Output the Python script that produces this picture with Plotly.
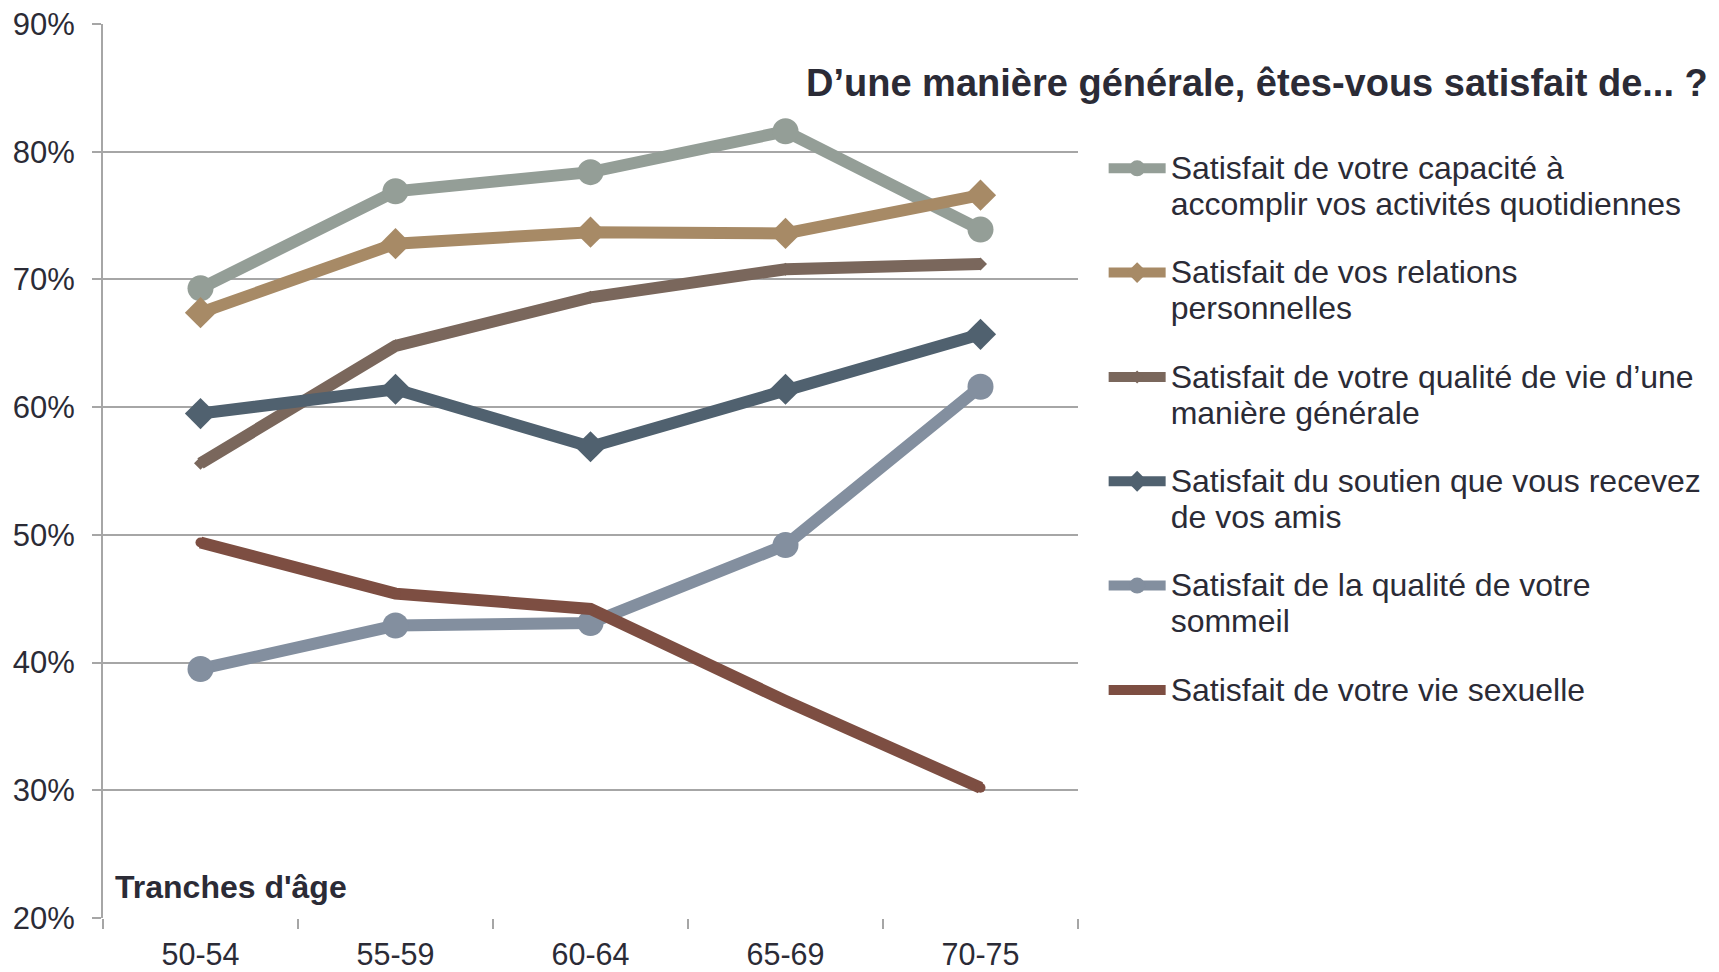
import plotly.graph_objects as go

categories = ["50-54", "55-59", "60-64", "65-69", "70-75"]

s_capacite = [69.3, 76.9, 78.4, 81.6, 73.9]
s_relations = [67.4, 72.8, 73.7, 73.6, 76.6]
s_qualite_vie = [55.6, 64.8, 68.6, 70.8, 71.2]
s_soutien = [59.5, 61.4, 56.9, 61.4, 65.7]
s_sommeil = [39.5, 42.9, 43.1, 49.2, 61.6]
s_sexuelle = [49.4, 45.4, 44.2, 37.0, 30.2]

series_names = [
    "Satisfait de votre capacité à<br>accomplir vos activités quotidiennes",
    "Satisfait de vos relations<br>personnelles",
    "Satisfait de votre qualité de vie d’une<br>manière générale",
    "Satisfait du soutien que vous recevez<br>de vos amis",
    "Satisfait de la qualité de votre<br>sommeil",
    "Satisfait de votre vie sexuelle",
]
series_values = [s_capacite, s_relations, s_qualite_vie, s_soutien, s_sommeil, s_sexuelle]
series_colors = ["#949e97", "#a78a66", "#7a675c", "#50616f", "#838f9f", "#7d4e42"]
series_symbols = ["circle", "diamond", "diamond", "diamond", "circle", "circle"]
series_msizes = [26, 24, 10, 24, 26, 10]

text_color = "#2b2b36"
font_family = "Liberation Sans, Arial, sans-serif"
legend_text_px = 32

fig = go.Figure()
for i, (name, vals, col, sym, ms) in enumerate(
    zip(series_names, series_values, series_colors, series_symbols, series_msizes)
):
    fig.add_trace(
        go.Scatter(
            x=categories,
            y=vals,
            name=f'<span style="font-size:{legend_text_px}px">{name}</span>'.replace(
                "<br>", f'</span><br><span style="font-size:{legend_text_px}px">'
            ),
            mode="lines+markers",
            line=dict(color=col, width=12),
            marker=dict(color=col, symbol=sym, size=ms, line=dict(width=0)),
            legendgroup=f"g{i}",
        )
    )

fig.update_layout(
    width=1719,
    height=972,
    margin=dict(l=103, r=641, t=24, b=54, autoexpand=False),
    paper_bgcolor="white",
    plot_bgcolor="white",
    font=dict(family=font_family, color=text_color, size=27),
    title=dict(
        text="<b>D’une manière générale, êtes-vous satisfait de... ?</b>",
        font=dict(size=38, color=text_color, family=font_family),
        xref="container",
        yref="container",
        x=806 / 1719,
        xanchor="left",
        y=1 - 83 / 972,
        yanchor="middle",
    ),
    legend=dict(
        x=1.0263,
        xanchor="left",
        y=0.866,
        yanchor="top",
        valign="top",
        font=dict(size=27.7, color=text_color, family=font_family),
        tracegroupgap=29.3,
        itemwidth=57,
        bgcolor="rgba(0,0,0,0)",
    ),
    showlegend=True,
)

fig.update_xaxes(
    type="category",
    range=[-0.5, 4.5],
    showgrid=False,
    showline=False,
    ticks="outside",
    tickson="boundaries",
    ticklen=10,
    tickwidth=1.5,
    tickcolor="#a6a6a6",
    tickfont=dict(size=30.5, color=text_color),
    ticklabelstandoff=15,
    zeroline=False,
    automargin=False,
)

fig.update_yaxes(
    range=[20, 90],
    tickvals=[20, 30, 40, 50, 60, 70, 80, 90],
    ticktext=["20%", "30%", "40%", "50%", "60%", "70%", "80%", "90%"],
    showgrid=True,
    gridcolor="#a6a6a6",
    gridwidth=2,
    showline=True,
    linecolor="#a6a6a6",
    linewidth=2,
    ticks="outside",
    ticklen=9,
    tickwidth=2,
    tickcolor="#a6a6a6",
    tickfont=dict(size=31, color=text_color),
    ticklabelstandoff=11,
    zeroline=False,
    automargin=False,
)

fig.add_annotation(
    text="<b>Tranches d'âge</b>",
    xref="paper",
    yref="y",
    x=0.01,
    y=22.45,
    xanchor="left",
    yanchor="middle",
    showarrow=False,
    font=dict(size=32, color=text_color, family=font_family),
)

fig.write_html(
    "out.html",
    config={"displayModeBar": False},
    post_script="document.body.style.margin='0';document.body.style.overflow='hidden';",
)
